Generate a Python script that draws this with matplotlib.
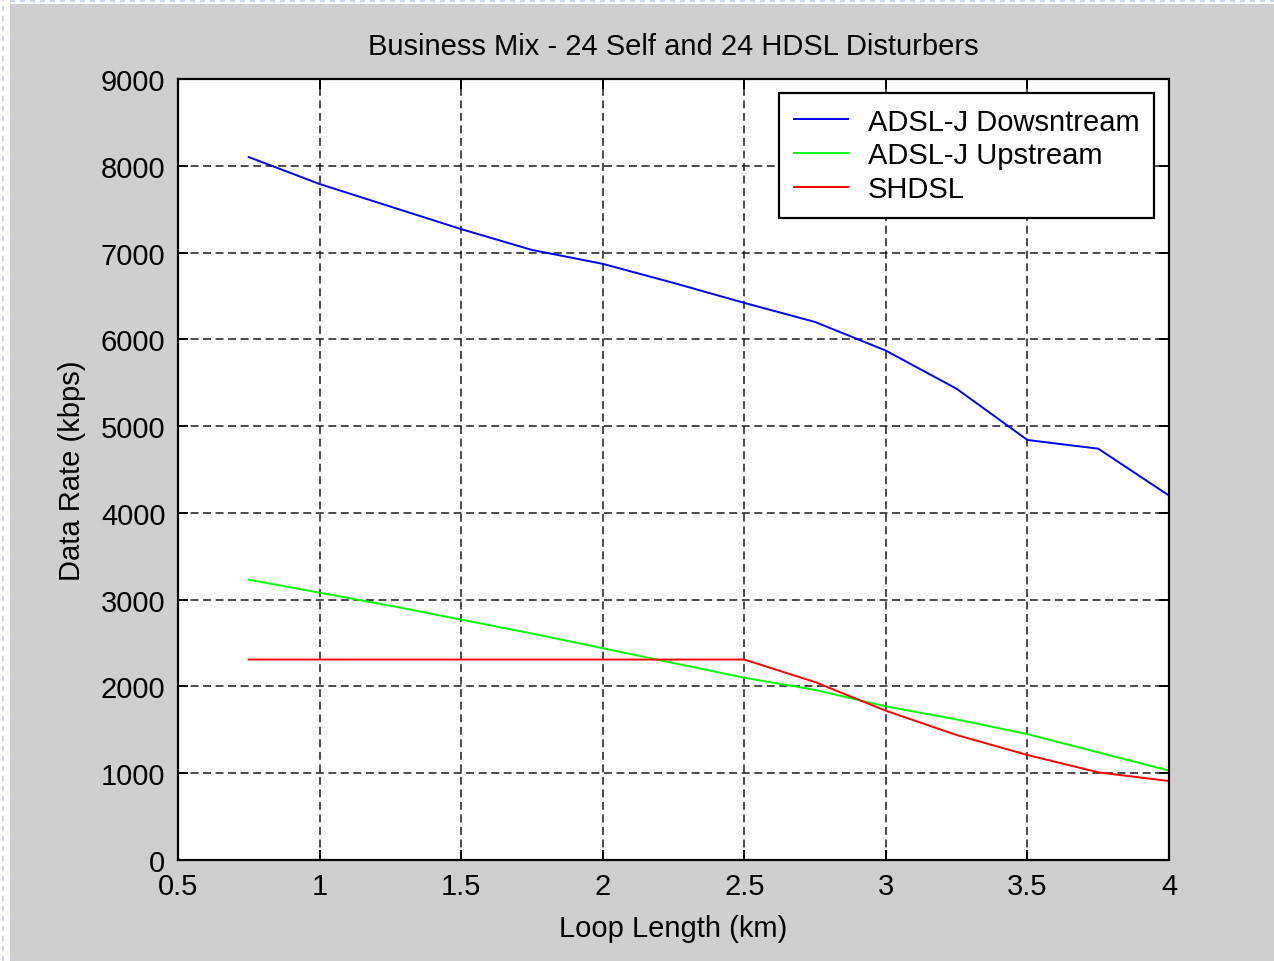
import numpy as np
import matplotlib.pyplot as plt
from matplotlib.patches import Rectangle

# Loop length in km
loop_km = [0.75, 1.0, 1.25, 1.5, 1.75, 2.0, 2.25, 2.5, 2.75, 3.0, 3.25, 3.5, 3.75, 4.0]

# Data rates in kbps
adsl_down = [8100, 7790, 7530, 7270, 7030, 6870, 6650, 6420, 6200, 5870, 5430, 4840, 4740, 4200]
adsl_up = [3230, 3080, 2930, 2770, 2610, 2440, 2270, 2100, 1960, 1770, 1620, 1450, 1240, 1030]
shdsl = [2310, 2310, 2310, 2310, 2310, 2310, 2310, 2310, 2050, 1720, 1440, 1210, 1010, 910]

x_ticks = [0.5, 1, 1.5, 2, 2.5, 3, 3.5, 4]
x_ticklabels = ["0.5", "1", "1.5", "2", "2.5", "3", "3.5", "4"]
y_ticks = [0, 1000, 2000, 3000, 4000, 5000, 6000, 7000, 8000, 9000]

plt.rcParams['font.family'] = ['Liberation Sans', 'DejaVu Sans']
FS = 21

W, H = 1274, 962
fig = plt.figure(figsize=(W / 100, H / 100), dpi=100)
fig.patch.set_facecolor("white")

# gray window background
fig.patches.append(Rectangle((10 / W, 0), 1 - 10 / W, 1 - 5 / H, transform=fig.transFigure,
                             facecolor="#cfcfcf", edgecolor="none", zorder=-10))
# faint dotted guides along the page edge
fig.add_artist(plt.Line2D([10 / W, 1], [1 - 2 / H, 1 - 2 / H], transform=fig.transFigure,
                          color="#c4ccf0", lw=1.2, ls=(0, (3, 3)), zorder=-5))
fig.add_artist(plt.Line2D([3 / W, 3 / W], [0, 1], transform=fig.transFigure,
                          color="#c4ccf0", lw=1.2, ls=(0, (3, 3)), zorder=-5))

ax = fig.add_axes([178 / W, 1 - 861 / H, 991 / W, 781 / H])
ax.set_facecolor("white")

ax.plot(loop_km, adsl_down, color="#0000ff", lw=1.4, label="ADSL-J Dowsntream")
ax.plot(loop_km, adsl_up, color="#00ff00", lw=1.4, label="ADSL-J Upstream")
ax.plot(loop_km, shdsl, color="#ff0000", lw=1.4, label="SHDSL")

ax.set_xlim(0.5, 4)
ax.set_ylim(0, 9000)
ax.set_xticks(x_ticks)
ax.set_xticklabels(x_ticklabels)
ax.set_yticks(y_ticks)

ax.grid(True, color="#1a1a1a", ls=(0, (5.2, 3)), lw=1.1)
ax.set_axisbelow(True)
for s in ax.spines.values():
    s.set_color("black")
    s.set_linewidth(1.6)
ax.tick_params(direction="in", length=7, width=1.4, top=True, right=True,
               labelsize=FS, pad=9)

ax.set_title("Business Mix - 24 Self and 24 HDSL Disturbers", fontsize=FS, pad=18)
ax.set_xlabel("Loop Length (km)", fontsize=FS, labelpad=10)
ax.set_ylabel("Data Rate (kbps)", fontsize=FS, labelpad=11)

leg = ax.legend(loc="upper right", bbox_to_anchor=(0.985, 0.982), borderaxespad=0,
                fontsize=FS, frameon=True, fancybox=False, framealpha=1, edgecolor="black",
                handlelength=1.85, handletextpad=0.7, labelspacing=0.2, borderpad=0.5)
leg.get_frame().set_linewidth(1.6)

fig.savefig("out.png", dpi=100, facecolor=fig.get_facecolor())
